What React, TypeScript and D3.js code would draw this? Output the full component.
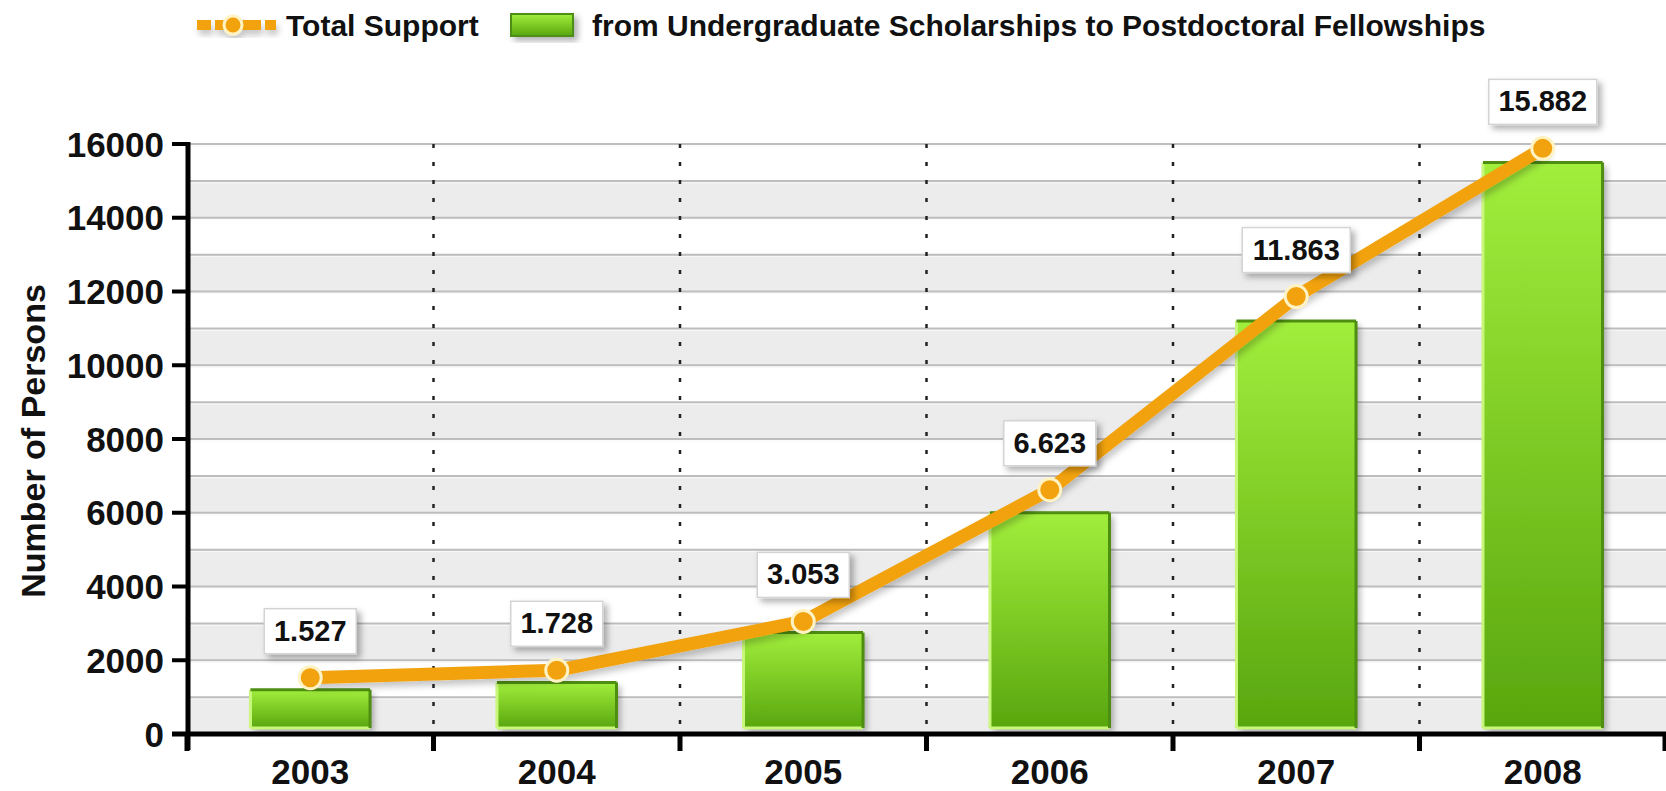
import React from "react";
import * as d3 from "d3";

const years = ["2003", "2004", "2005", "2006", "2007", "2008"];
const barValues = [1200, 1400, 2750, 6000, 11200, 15500];
const totalValues = [1527, 1728, 3053, 6623, 11863, 15882];
const totalLabels = ["1.527", "1.728", "3.053", "6.623", "11.863", "15.882"];
const yTicks = [0, 2000, 4000, 6000, 8000, 10000, 12000, 14000, 16000];
const gridValues = d3.range(1000, 16001, 1000);
const legendLine = "Total Support";
const legendBar = "from Undergraduate Scholarships to Postdoctoral Fellowships";
const yTitle = "Number of Persons";

const W = 1666;
const H = 791;
const FONT = "'Liberation Sans', Arial, Helvetica, sans-serif";

export default function App() {
  const x = d3.scaleBand<string>().domain(years).range([187, 1666]).padding(0);
  const y = d3.scaleLinear().domain([0, 16000]).range([734, 144]);
  const step = x.step();
  const barW = step * 0.485;
  const cx = (yr: string) => (x(yr) as number) + step / 2;

  const line = d3
    .line<number>()
    .x((_, i) => cx(years[i]))
    .y((v) => y(v));

  const bands = d3.range(0, 16000, 2000);
  const boundaries = d3.range(1, years.length).map((i) => x(years[i]) as number);
  const xTickPos = [...years.map((yr) => x(yr) as number), 1665];

  return (
    <svg
      width={W}
      height={H}
      style={{ position: "absolute", left: 0, top: 0, background: "#fff" }}
      fontFamily={FONT}
    >
      <defs>
        <linearGradient id="barGrad" x1="0" y1="0" x2="0" y2="1">
          <stop offset="0%" stopColor="#a2ee3c" />
          <stop offset="100%" stopColor="#58a60e" />
        </linearGradient>
        <filter id="shadow" x="-20%" y="-20%" width="150%" height="150%">
          <feDropShadow dx="4" dy="4" stdDeviation="3" floodColor="#000" floodOpacity="0.3" />
        </filter>
        <filter id="lineShadow" x="-10%" y="-10%" width="120%" height="130%">
          <feDropShadow dx="2" dy="5" stdDeviation="3" floodColor="#000" floodOpacity="0.22" />
        </filter>
      </defs>

      {/* plot background bands */}
      {bands.map((b) => (
        <rect key={"band" + b} x={187} y={y(b + 1000)} width={W - 187} height={y(b) - y(b + 1000)} fill="#ececec" />
      ))}
      {/* horizontal gridlines */}
      {gridValues.map((g) => (
        <g key={"g" + g}>
          <line x1={187} x2={W} y1={y(g)} y2={y(g)} stroke="#bdbdbd" strokeWidth={2} />
          <line x1={187} x2={W} y1={y(g) + 2} y2={y(g) + 2} stroke="#f8f8f8" strokeWidth={1} />
        </g>
      ))}
      {/* vertical dotted gridlines */}
      {boundaries.map((bx) => (
        <line
          key={"v" + bx}
          x1={bx}
          x2={bx}
          y1={y(16000)}
          y2={y(0)}
          stroke="#222"
          strokeWidth={2.5}
          strokeDasharray="4 14"
        />
      ))}

      {/* bars */}
      {years.map((yr, i) => {
        const bx = cx(yr) - barW / 2;
        const top = y(barValues[i]);
        const bottom = y(0) - 6;
        return (
          <g key={"bar" + yr}>
            <rect x={bx} y={top} width={barW} height={bottom - top} fill="url(#barGrad)" filter="url(#shadow)" />
            <line x1={bx} x2={bx} y1={top} y2={bottom} stroke="#c9f77c" strokeWidth={3} />
            <line x1={bx} x2={bx + barW} y1={bottom} y2={bottom} stroke="#c9f77c" strokeWidth={3} />
            <line x1={bx} x2={bx + barW} y1={top} y2={top} stroke="#4e8f12" strokeWidth={3} />
            <line x1={bx + barW} x2={bx + barW} y1={top} y2={bottom} stroke="#4e8f12" strokeWidth={3} />
          </g>
        );
      })}

      {/* axes */}
      <line x1={188} x2={188} y1={142} y2={750} stroke="#000" strokeWidth={5} />
      <line x1={172} x2={W} y1={734} y2={734} stroke="#000" strokeWidth={5} />
      {yTicks.map((t) => (
        <g key={"yt" + t}>
          <line x1={172} x2={188} y1={y(t)} y2={y(t)} stroke="#000" strokeWidth={4} />
          <text
            x={164}
            y={y(t)}
            textAnchor="end"
            dominantBaseline="central"
            fontSize={35}
            fontWeight="bold"
            fill="#111"
          >
            {t}
          </text>
        </g>
      ))}
      {xTickPos.map((tx, i) => (
        <line key={"xt" + i} x1={tx} x2={tx} y1={734} y2={751} stroke="#000" strokeWidth={5} />
      ))}
      {years.map((yr) => (
        <text key={"xl" + yr} x={cx(yr)} y={784} textAnchor="middle" fontSize={35} fontWeight="bold" fill="#111">
          {yr}
        </text>
      ))}
      <text
        transform={`translate(45,441) rotate(-90)`}
        textAnchor="middle"
        fontSize={34}
        fontWeight="bold"
        fill="#111"
      >
        {yTitle}
      </text>

      {/* line series */}
      <path
        d={line(totalValues) as string}
        fill="none"
        stroke="#f2a20e"
        strokeWidth={13}
        strokeLinejoin="round"
        strokeLinecap="round"
        filter="url(#lineShadow)"
      />
      {totalValues.map((v, i) => (
        <circle key={"pt" + i} cx={cx(years[i])} cy={y(v)} r={11} fill="#f2a20e" stroke="#fff3c4" strokeWidth={3} />
      ))}

      {/* value labels */}
      {totalValues.map((v, i) => {
        const label = totalLabels[i];
        const bw = 16 * label.length + 12;
        const bh = 45;
        const px = cx(years[i]);
        const bottom = y(v) - 24;
        return (
          <g key={"lab" + i}>
            <rect
              x={px - bw / 2}
              y={bottom - bh}
              width={bw}
              height={bh}
              fill="#fff"
              stroke="#d4d4d4"
              strokeWidth={1.5}
              filter="url(#shadow)"
            />
            <text x={px} y={bottom - 13} textAnchor="middle" fontSize={29} fontWeight="bold" fill="#111">
              {label}
            </text>
          </g>
        );
      })}

      {/* legend */}
      <g filter="url(#lineShadow)">
        <line x1={197} x2={276} y1={25} y2={25} stroke="#f2a20e" strokeWidth={10} strokeDasharray="14 4 46 4 14" />
        <circle cx={233} cy={25} r={9} fill="#f2a20e" stroke="#fff3c4" strokeWidth={3} />
      </g>
      <text x={286} y={36} fontSize={30} fontWeight="bold" fill="#111">
        {legendLine}
      </text>
      <rect x={511} y={14} width={62} height={22} fill="url(#barGrad)" stroke="#4e8f12" strokeWidth={2} filter="url(#shadow)" />
      <text x={592} y={36} fontSize={30} fontWeight="bold" fill="#111">
        {legendBar}
      </text>
    </svg>
  );
}
